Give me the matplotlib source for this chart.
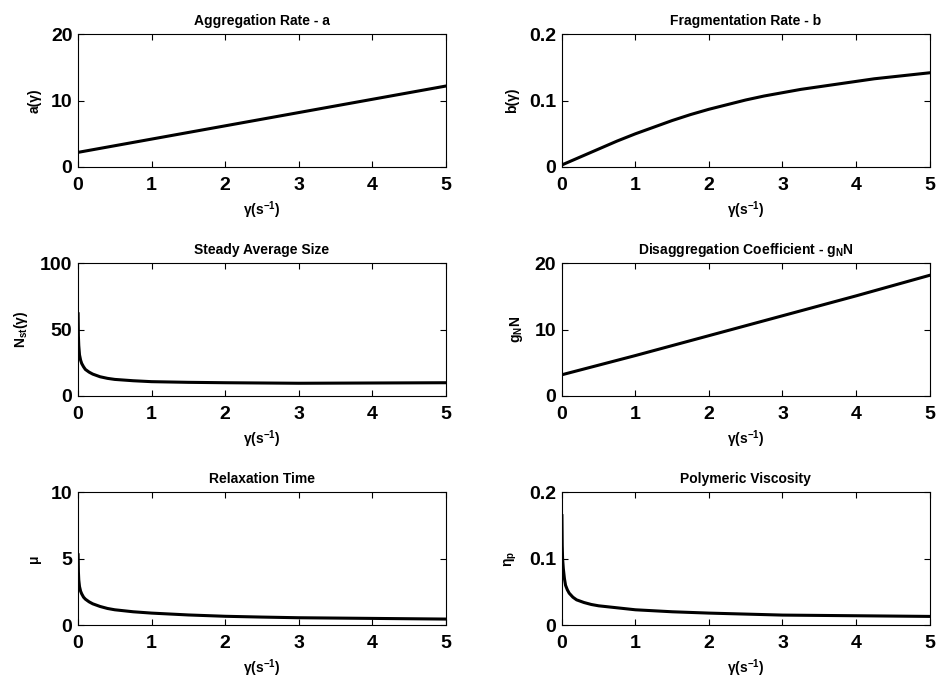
import numpy as np
import matplotlib
matplotlib.use("Agg")
import matplotlib.pyplot as plt

plt.rcParams['font.family'] = ['Liberation Sans', 'DejaVu Sans']
plt.rcParams['font.weight'] = 'bold'
plt.rcParams['mathtext.fontset'] = 'custom'
plt.rcParams['mathtext.rm'] = 'Liberation Sans:bold'
plt.rcParams['mathtext.it'] = 'Liberation Sans:bold'
plt.rcParams['mathtext.bf'] = 'Liberation Sans:bold'
plt.rcParams['mathtext.default'] = 'rm'

# shear rate values (s^-1)
gamma_lin = [0, 1, 2, 3, 4, 5]
a_vals = [2.2, 4.2, 6.2, 8.2, 10.2, 12.2]
gN_vals = [3.2, 6.1, 9.1, 12.1, 15.1, 18.2]

gamma_b = [0, 0.25, 0.5, 0.75, 1, 1.25, 1.5, 1.75, 2, 2.25, 2.5, 2.75, 3,
           3.25, 3.5, 3.75, 4, 4.25, 4.5, 4.75, 5]
b_vals = [0.003, 0.015, 0.027, 0.039, 0.050, 0.060, 0.070, 0.079, 0.087,
          0.094, 0.101, 0.107, 0.112, 0.117, 0.121, 0.125, 0.129, 0.133,
          0.136, 0.139, 0.142]

gamma_dec = [0.001, 0.005, 0.01, 0.02, 0.035, 0.05, 0.075, 0.1, 0.15, 0.2,
             0.3, 0.4, 0.5, 0.75, 1, 1.5, 2, 2.5, 3, 4, 5]
N_vals = [62, 45, 38, 31, 27, 24.5, 22, 20, 18, 16.5, 14.5, 13.3, 12.5,
          11.5, 10.8, 10.3, 10, 9.8, 9.6, 9.8, 10]
mu_vals = [5.3, 4.0, 3.4, 2.9, 2.55, 2.35, 2.1, 1.95, 1.75, 1.6, 1.4, 1.25,
           1.15, 1.0, 0.9, 0.76, 0.66, 0.6, 0.55, 0.5, 0.45]
eta_vals = [0.165, 0.12, 0.1, 0.085, 0.07, 0.06, 0.053, 0.048, 0.042, 0.038,
            0.034, 0.031, 0.029, 0.026, 0.023, 0.020, 0.018, 0.0165, 0.015,
            0.014, 0.013]

panels = [
    ('Aggregation Rate - a', 'a(γ)', gamma_lin, a_vals, [0, 10, 20], ['0', '10', '20']),
    ('Fragmentation Rate - b', 'b(γ)', gamma_b, b_vals, [0, 0.1, 0.2], ['0', '0.1', '0.2']),
    ('Steady Average Size', r'N$_{st}$(γ)', gamma_dec, N_vals, [0, 50, 100], ['0', '50', '100']),
    ('Disaggregation Coefficient - g$_N$N', r'g$_N$N', gamma_lin, gN_vals, [0, 10, 20], ['0', '10', '20']),
    ('Relaxation Time', 'μ', gamma_dec, mu_vals, [0, 5, 10], ['0', '5', '10']),
    ('Polymeric Viscosity', r'η$_p$', gamma_dec, eta_vals, [0, 0.1, 0.2], ['0', '0.1', '0.2']),
]

fig = plt.figure(figsize=(9.38, 6.87), dpi=100)
lefts = [0.0832, 0.599]
bottoms = [0.757, 0.4236, 0.0902]

for i, (title, ylab, x, y, yt, ytl) in enumerate(panels):
    ax = fig.add_axes([lefts[i % 2], bottoms[i // 2], 0.392, 0.193])
    ax.plot(x, y, color='black', lw=2.2, solid_joinstyle='round')
    ax.set_xlim(0, 5)
    ax.set_ylim(yt[0], yt[-1])
    ax.set_xticks([0, 1, 2, 3, 4, 5])
    ax.set_yticks(yt)
    ax.set_yticklabels(ytl)
    ax.tick_params(direction='in', top=True, right=True, length=4, width=0.8,
                   labelsize=14)
    ax.tick_params(axis='x', pad=7)
    ax.tick_params(axis='y', pad=4)
    for lab in ax.get_xticklabels() + ax.get_yticklabels():
        lab.set_fontweight('bold')
    ax.set_title(title, fontsize=10, fontweight='bold', pad=7)
    ax.set_xlabel(r'γ(s$^{-1}$)', fontsize=10, fontweight='bold', labelpad=4)
    ax.set_ylabel(ylab, fontsize=10, fontweight='bold', labelpad=7)
    for s in ax.spines.values():
        s.set_linewidth(0.8)

fig.savefig('out.png', dpi=100)
